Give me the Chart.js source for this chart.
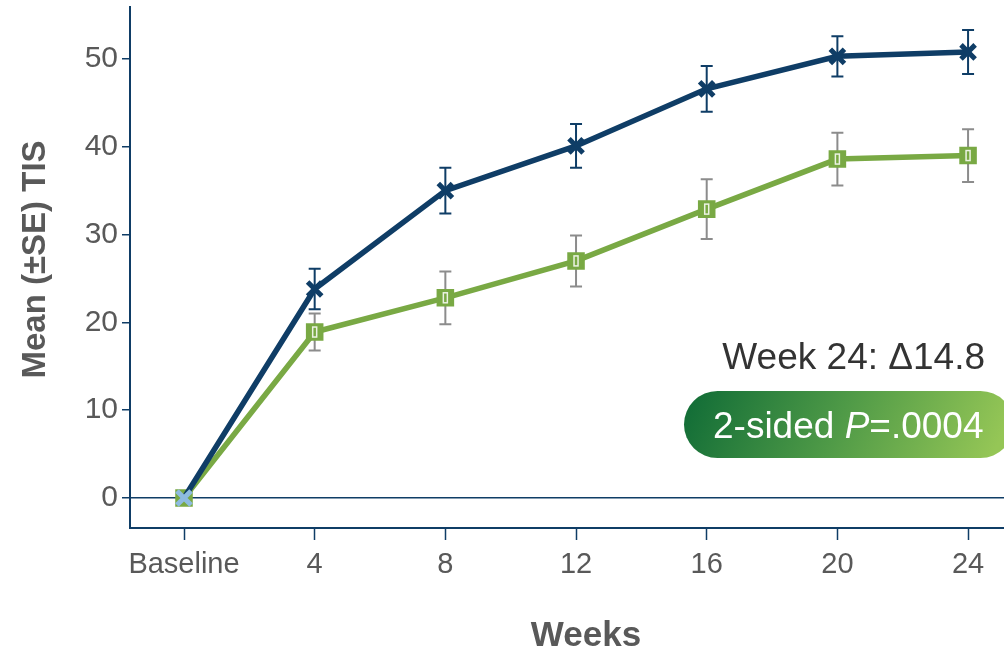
<!DOCTYPE html>
<html>
<head>
<meta charset="utf-8">
<script src="https://cdn.jsdelivr.net/npm/chart.js@4.4.1/dist/chart.umd.min.js"></script>
<style>
  html, body { margin: 0; padding: 0; background: #ffffff; }
  #wrap { width: 1004px; height: 650px; position: relative; }
</style>
</head>
<body>
<div id="wrap"><canvas id="chart" width="1004" height="650"></canvas></div>
<script>
// Study visits (weeks from baseline)
const weeks = [0, 4, 8, 12, 16, 20, 24];
const weekLabels = ['Baseline', '4', '8', '12', '16', '20', '24'];
const yTicks = [0, 10, 20, 30, 40, 50];

// Mean TIS and standard error per visit
const activeMean = [0, 23.8, 35.0, 40.1, 46.6, 50.3, 50.8];
const activeSE   = [0, 2.3, 2.6, 2.5, 2.6, 2.3, 2.5];
const controlMean = [0, 18.9, 22.8, 27.0, 32.9, 38.6, 39.0];
const controlSE   = [0, 2.1, 3.0, 2.9, 3.4, 3.0, 3.0];

const NAVY = '#0f3d66';
const GREEN = '#79a944';
const TEXT = '#595959';
const FONT = '"Liberation Sans", Arial, sans-serif';

const toPoints = (xs, ys) => xs.map((x, i) => ({ x: x, y: ys[i] }));

// Keep the plot area flush with the canvas edges (no label overhang padding)
const noOverhang = s => {
  s.paddingTop = 0; s.paddingBottom = 0;
  s.paddingLeft = 0; s.paddingRight = 0;
};

// Vertical error bars with caps, drawn behind the lines
const errorBars = {
  id: 'errorBars',
  beforeDatasetsDraw(chart) {
    const { ctx, scales: { x, y } } = chart;
    chart.data.datasets.forEach(ds => {
      if (!ds.se) return;
      ctx.save();
      ctx.strokeStyle = ds.errorColor;
      ctx.lineWidth = 2;
      ds.data.forEach((p, i) => {
        const e = ds.se[i];
        if (!e) return;
        const px = x.getPixelForValue(p.x);
        const top = y.getPixelForValue(p.y + e);
        const bot = y.getPixelForValue(p.y - e);
        const cap = 6;
        ctx.beginPath();
        ctx.moveTo(px, top); ctx.lineTo(px, bot);
        ctx.moveTo(px - cap, top); ctx.lineTo(px + cap, top);
        ctx.moveTo(px - cap, bot); ctx.lineTo(px + cap, bot);
        ctx.stroke();
      });
      ctx.restore();
    });
  },
  // small light slot inside the square markers
  afterDatasetsDraw(chart) {
    const { ctx } = chart;
    chart.data.datasets.forEach((ds, di) => {
      if (!ds.innerSlot) return;
      const meta = chart.getDatasetMeta(di);
      ctx.save();
      ctx.strokeStyle = 'rgba(255,255,255,0.85)';
      ctx.lineWidth = 1.5;
      meta.data.forEach((pt, i) => {
        if (i === 0) return;
        ctx.strokeRect(pt.x - 2, pt.y - 5, 4, 10);
      });
      ctx.restore();
    });
  }
};

// Axis titles and the week-24 annotation
const decorations = {
  id: 'decorations',
  afterDraw(chart) {
    const { ctx, chartArea } = chart;
    ctx.save();
    ctx.fillStyle = TEXT;
    ctx.font = 'bold 35px ' + FONT;
    ctx.textAlign = 'center';
    ctx.textBaseline = 'alphabetic';
    ctx.fillText('Weeks', 586, 646);

    ctx.save();
    ctx.translate(45, (chartArea.top + chartArea.bottom) / 2 - 8);
    ctx.rotate(-Math.PI / 2);
    ctx.font = 'bold 33px ' + FONT;
    ctx.fillText('Mean (\u00B1SE) TIS', 0, 0);
    ctx.restore();

    // Treatment difference
    ctx.fillStyle = '#333333';
    ctx.font = '37px ' + FONT;
    ctx.textAlign = 'right';
    ctx.fillText('Week 24: \u039414.8', 985, 369);

    // P-value pill
    const bx = 684, by = 391, bw = 330, bh = 67, r = bh / 2;
    const g = ctx.createLinearGradient(bx, by, bx + bw * 0.85, by + bh + 60);
    g.addColorStop(0, '#0f6b36');
    g.addColorStop(0.5, '#4f9a47');
    g.addColorStop(1, '#95c656');
    ctx.fillStyle = g;
    ctx.beginPath();
    ctx.moveTo(bx + r, by);
    ctx.lineTo(bx + bw - r, by);
    ctx.arc(bx + bw - r, by + r, r, -Math.PI / 2, Math.PI / 2);
    ctx.lineTo(bx + r, by + bh);
    ctx.arc(bx + r, by + r, r, Math.PI / 2, Math.PI * 1.5);
    ctx.closePath();
    ctx.fill();

    ctx.fillStyle = '#ffffff';
    ctx.textAlign = 'left';
    let tx = 713;
    const ty = 438;
    const parts = [['2-sided ', '37px '], ['P', 'italic 37px '], ['=.0004', '37px ']];
    parts.forEach(([s, f]) => {
      ctx.font = f + FONT;
      ctx.fillText(s, tx, ty);
      tx += ctx.measureText(s).width;
    });
    ctx.restore();
  }
};

new Chart(document.getElementById('chart'), {
  type: 'line',
  data: {
    datasets: [
      {
        label: 'Active',
        data: toPoints(weeks, activeMean),
        se: activeSE,
        errorColor: NAVY,
        borderColor: NAVY,
        borderWidth: 5.5,
        pointStyle: 'crossRot',
        pointRadius: 10,
        pointBorderWidth: 5,
        pointBorderColor: weeks.map(w => w === 0 ? '#8dbbe0' : NAVY),
        pointBackgroundColor: NAVY,
        tension: 0
      },
      {
        label: 'Control',
        data: toPoints(weeks, controlMean),
        se: controlSE,
        errorColor: '#8c8c8c',
        innerSlot: true,
        borderColor: GREEN,
        borderWidth: 5.5,
        pointStyle: 'rect',
        pointRadius: 11,
        pointBorderWidth: 2,
        pointBorderColor: GREEN,
        pointBackgroundColor: GREEN,
        tension: 0
      }
    ]
  },
  options: {
    responsive: false,
    animation: false,
    layout: { autoPadding: false, padding: { top: 7, right: 0, left: 0, bottom: 0 } },
    plugins: { legend: { display: false }, tooltip: { enabled: false } },
    scales: {
      x: {
        type: 'linear',
        min: -1.653,
        max: 25.1,
        afterBuildTicks: s => { s.ticks = weeks.map(v => ({ value: v })); },
        afterFit: s => { s.height = 122; noOverhang(s); },
        ticks: {
          callback: (v) => weekLabels[weeks.indexOf(v)],
          color: TEXT,
          font: { family: FONT, size: 29 },
          padding: 8,
          maxRotation: 0
        },
        grid: {
          drawOnChartArea: false,
          drawTicks: true,
          tickLength: 12,
          tickColor: NAVY,
          tickWidth: 1.5
        },
        border: { color: NAVY, width: 2 }
      },
      y: {
        min: -3.42,
        max: 55.92,
        afterBuildTicks: s => { s.ticks = yTicks.map(v => ({ value: v })); },
        afterFit: s => { s.width = 130; noOverhang(s); },
        ticks: {
          color: TEXT,
          font: { family: FONT, size: 30 },
          padding: 4
        },
        grid: {
          color: c => (c.tick && c.tick.value === 0) ? NAVY : 'rgba(0,0,0,0)',
          lineWidth: 1.5,
          tickLength: 8,
          tickColor: NAVY,
          tickWidth: 1.5
        },
        border: { color: NAVY, width: 2 }
      }
    }
  },
  plugins: [errorBars, decorations]
});
</script>
</body>
</html>
